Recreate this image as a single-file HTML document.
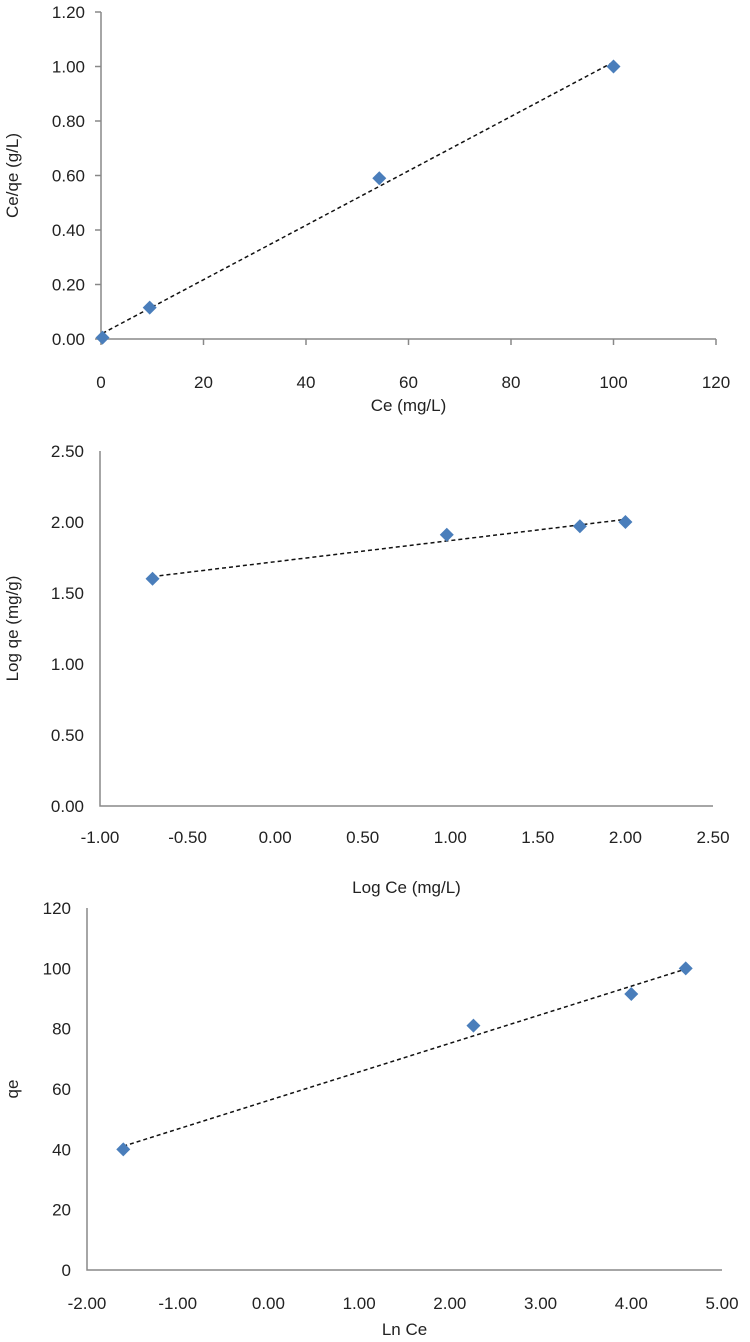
<!DOCTYPE html>
<html><head><meta charset="utf-8"><style>
body{margin:0;background:#fff}
svg{display:block;font-family:"Liberation Sans",sans-serif;font-size:17px;fill:#222}
</style></head><body>
<svg id="s" width="750" height="1342"></svg>
<script>
const c1X=[0.3,9.5,54.3,100], c1Y=[0.005,0.115,0.59,1.0];
const c1Xt=["0","20","40","60","80","100","120"], c1Yt=["0.00","0.20","0.40","0.60","0.80","1.00","1.20"];
const c2X=[-0.70,0.98,1.74,2.0], c2Y=[1.60,1.91,1.97,2.0];
const c2Xt=["-1.00","-0.50","0.00","0.50","1.00","1.50","2.00","2.50"], c2Yt=["0.00","0.50","1.00","1.50","2.00","2.50"];
const c3X=[-1.6,2.26,4.0,4.6], c3Y=[40,81,91.5,100];
const c3Xt=["-2.00","-1.00","0.00","1.00","2.00","3.00","4.00","5.00"], c3Yt=["0","20","40","60","80","100","120"];
const NS="http://www.w3.org/2000/svg", S=document.getElementById('s');
function el(t,a,p){const e=document.createElementNS(NS,t);for(const k in a)e.setAttribute(k,a[k]);(p||S).appendChild(e);return e;}
function chart(id,xs,ys,xt,yt,L,R,T,B,ticks,xlab,ylab,xlabY,ylabX,xtickY){
  const g=el('g',{});
  
  
  const x0=+xt[0],x1=+xt[xt.length-1],y0=+yt[0],y1=+yt[yt.length-1];
  const sx=v=>L+(v-x0)/(x1-x0)*(R-L), sy=v=>B-(v-y0)/(y1-y0)*(B-T);
  const ax=el('path',{d:`M${L},${T}V${B}H${R}`,stroke:'#888','stroke-width':1.5,fill:'none'},g);
  
  yt.forEach(t=>{const y=sy(+t);
    if(ticks)el('line',{x1:L-6,x2:L,y1:y,y2:y,stroke:'#888','stroke-width':1.5},g);
    const e=el('text',{x:L-16,y:y+6,'text-anchor':'end'},g);e.textContent=t;
    });
  xt.forEach(t=>{const x=sx(+t);
    if(ticks)el('line',{x1:x,x2:x,y1:B,y2:B+6,stroke:'#888','stroke-width':1.5},g);
    const e=el('text',{x:x,y:xtickY,'text-anchor':'middle'},g);e.textContent=t;
    });
  const n=xs.length,mx=xs.reduce((a,b)=>a+b)/n,my=ys.reduce((a,b)=>a+b)/n;
  let num=0,den=0;xs.forEach((x,i)=>{num+=(x-mx)*(ys[i]-my);den+=(x-mx)**2;});
  const m=num/den,b=my-m*mx,xa=Math.min(...xs),xb=Math.max(...xs);
  const tl=el('line',{x1:sx(xa),y1:sy(m*xa+b),x2:sx(xb),y2:sy(m*xb+b),stroke:'#111','stroke-width':1.5,'stroke-dasharray':'4,3'},g);
  
  xs.forEach((x,i)=>{const px=sx(x),py=sy(ys[i]);
    const p=el('path',{d:`M${px},${py-7}L${px+7},${py}L${px},${py+7}L${px-7},${py}Z`,fill:'#4a7ebb'},g);
    });
  const xl=el('text',{x:(L+R)/2,y:xlabY,'text-anchor':'middle'},g);xl.textContent=xlab;
  
  const yl=el('text',{x:0,y:0,'text-anchor':'middle',transform:`translate(${ylabX},${(T+B)/2}) rotate(-90)`},g);yl.textContent=ylab;
  
}
chart('chart-langmuir',c1X,c1Y,c1Xt,c1Yt,101,716,12,339,true,'Ce  (mg/L)','Ce/qe (g/L)',411,18,388);
chart('chart-freundlich',c2X,c2Y,c2Xt,c2Yt,100,713,451,806,false,'Log Ce (mg/L)','Log qe (mg/g)',893,18,843);
chart('chart-temkin',c3X,c3Y,c3Xt,c3Yt,87,722,908,1270,false,'Ln Ce','qe',1335,18,1309);
</script>
</body></html>
